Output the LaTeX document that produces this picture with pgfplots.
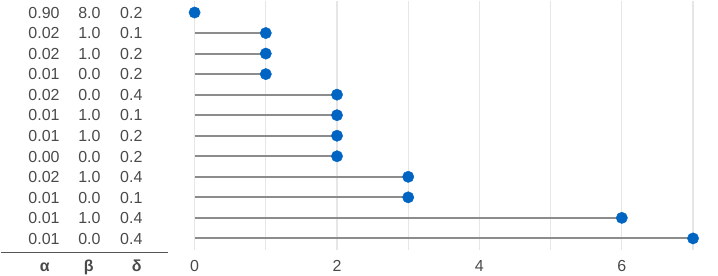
\documentclass[border=0pt]{standalone}
\usepackage{pgfplots}
\pgfplotsset{compat=1.18}
\usepackage{pgfplotstable}
\usepackage{fontspec}
\setmainfont{Liberation Sans}
\definecolor{txt}{HTML}{4A4A4A}
\definecolor{stem}{HTML}{8C8C8C}
\definecolor{dot}{HTML}{0064C3}
\definecolor{gridc}{HTML}{E6E6E6}
\definecolor{rulec}{HTML}{555555}

\pgfplotstableread{
y v
12 0
11 1
10 1
9 1
8 2
7 2
6 2
5 2
4 3
3 3
2 6
1 7
}\lolli

\newcommand{\trow}[4]{%
  \node[anchor=base east,text=txt,inner sep=0pt,xshift=-135bp,yshift=-5.8bp] at (axis cs:0,#1) {#2};
  \node[anchor=base east,text=txt,inner sep=0pt,xshift=-94bp,yshift=-5.8bp] at (axis cs:0,#1) {#3};
  \node[anchor=base east,text=txt,inner sep=0pt,xshift=-52bp,yshift=-5.8bp] at (axis cs:0,#1) {#4};
}

\begin{document}
\fontsize{16bp}{19bp}\selectfont
\begin{tikzpicture}[x=1bp,y=1bp]
\path (0,0) rectangle (718,275);
\begin{axis}[
  at={(194bp,25bp)}, anchor=south west,
  scale only axis, width=499bp, height=250bp,
  xmin=0, xmax=7, ymin=0.42, ymax=12.58,
  clip=false,
  axis line style={draw=none},
  ytick=\empty,
  xtick={0,2,4,6}, minor xtick={1,3,5,7},
  xmajorgrids, xminorgrids,
  major grid style={draw=gridc,line width=1.2bp},
  minor grid style={draw=gridc,line width=1.2bp},
  major tick length=0pt, minor tick length=0pt,
  /pgf/number format/assume math mode=true,
  xticklabel style={anchor=base,yshift=-21bp,text=txt,inner sep=0pt,font=\fontsize{16bp}{19bp}\selectfont},
  tick style={draw=none},
]
\addplot[xcomb, draw=stem, line width=1.9bp] table[x=v,y=y] {\lolli};
\addplot[only marks, mark=*, mark size=5.7pt, mark options={fill=dot,draw=dot}] table[x=v,y=y] {\lolli};
\trow{12}{0.90}{8.0}{0.2}
\trow{11}{0.02}{1.0}{0.1}
\trow{10}{0.02}{1.0}{0.2}
\trow{9}{0.01}{0.0}{0.2}
\trow{8}{0.02}{0.0}{0.4}
\trow{7}{0.01}{1.0}{0.1}
\trow{6}{0.01}{1.0}{0.2}
\trow{5}{0.00}{0.0}{0.2}
\trow{4}{0.02}{1.0}{0.4}
\trow{3}{0.01}{0.0}{0.1}
\trow{2}{0.01}{1.0}{0.4}
\trow{1}{0.01}{0.0}{0.4}
\end{axis}
\draw[rulec, line width=1.6bp] (0,23) -- (167,23);
\node[anchor=base,text=txt,inner sep=0pt,font=\bfseries] at (44,4) {α};
\node[anchor=base,text=txt,inner sep=0pt,font=\bfseries] at (88,4) {β};
\node[anchor=base,text=txt,inner sep=0pt,font=\bfseries] at (136,4) {δ};
\end{tikzpicture}
\end{document}
